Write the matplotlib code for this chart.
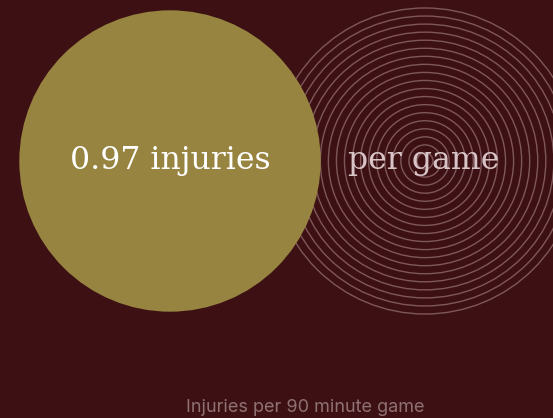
import numpy as np
import matplotlib.pyplot as plt
from matplotlib.patches import Circle

value = 0.97
reference = 1.0
value_label = "0.97 injuries"
reference_label = "per game"
caption = "Injuries per 90 minute game"
n_rings = 19

bg = "#3d1114"
gold = "#978440"
ring_col = "#8a6468"

W, H = 553, 418
fig = plt.figure(figsize=(W / 100, H / 100), dpi=100, facecolor=bg)
ax = fig.add_axes([0, 0, 1, 1])
ax.set_xlim(0, W)
ax.set_ylim(H, 0)
ax.set_aspect("equal")
ax.axis("off")

cy = 161
r_ref = 153
r_val = r_ref * np.sqrt(value / reference)

# reference circle drawn as concentric rings
ref_x = 425
for r in np.linspace(r_ref / n_rings, r_ref, n_rings):
    ax.add_patch(Circle((ref_x, cy), r, fill=False, ec=ring_col, lw=1.0, alpha=0.85))

val_x = 170
ax.add_patch(Circle((val_x, cy), r_val, fc=gold, ec="none"))

ax.text(val_x, cy, value_label, color="white", fontsize=22.7, family="DejaVu Serif",
        ha="center", va="center")
ax.text(ref_x - 1, cy, reference_label, color="#d8c4c6", fontsize=22.7, family="DejaVu Serif",
        ha="center", va="center")
ax.text(305, 407, caption, color="#8f7174", fontsize=13, family="Inter",
        ha="center", va="center")

fig.savefig("out.png", dpi=100, facecolor=bg)
